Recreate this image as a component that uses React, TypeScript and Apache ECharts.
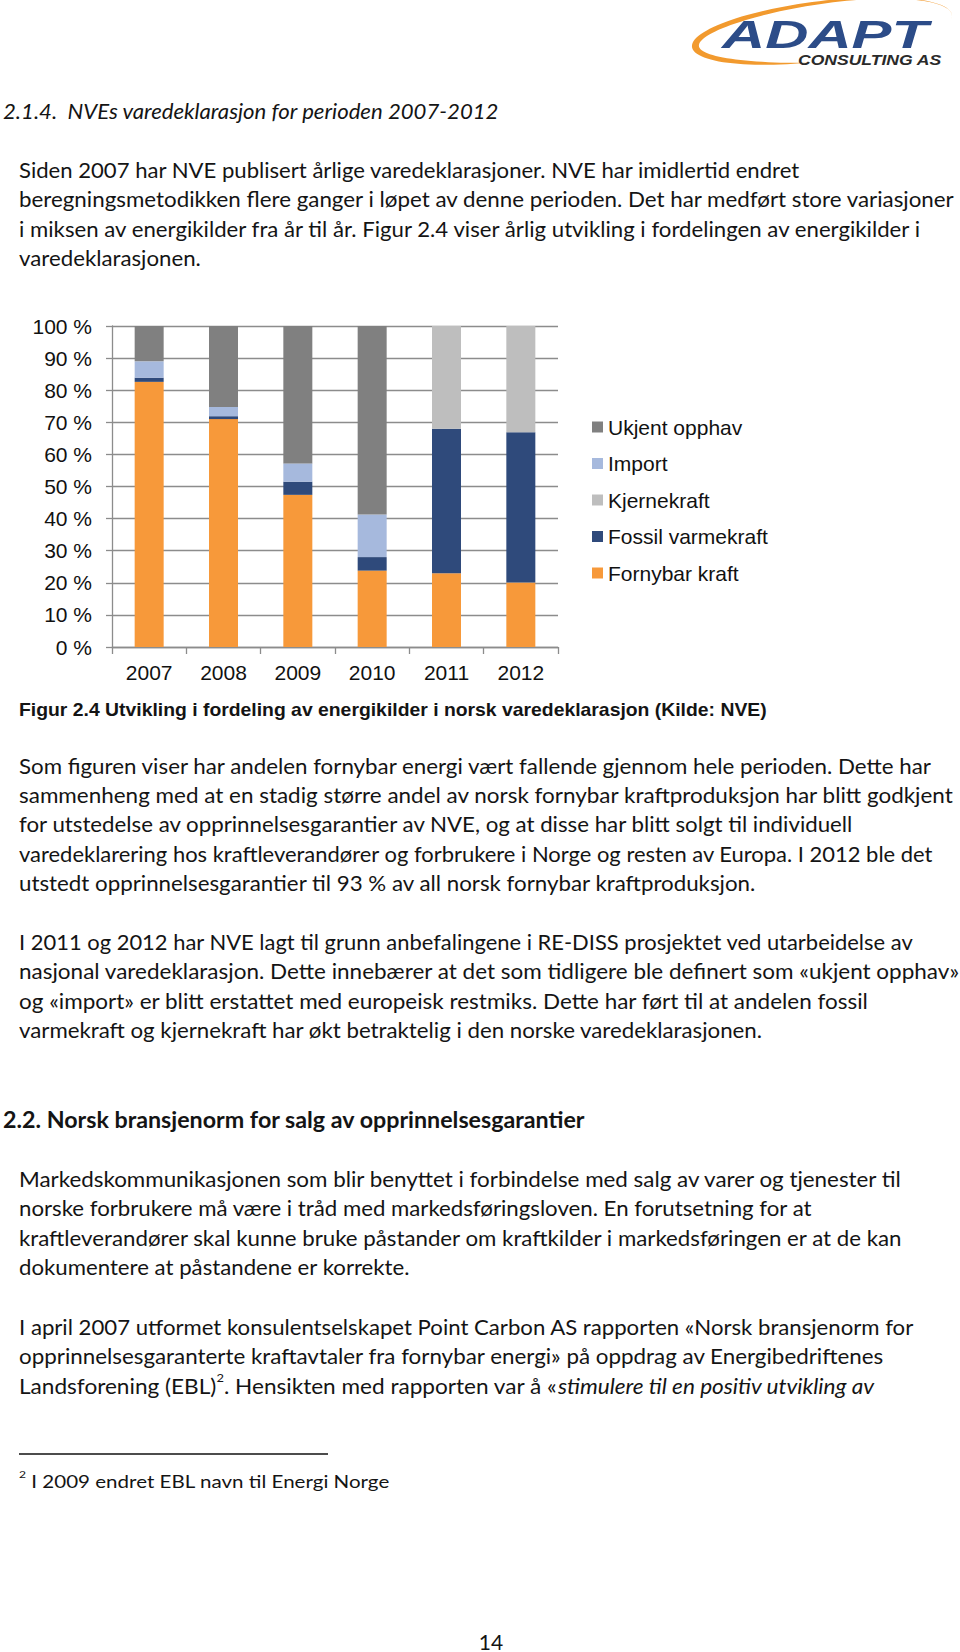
import React, { useEffect, useRef } from 'react';
import * as echarts from 'echarts';

// ---------- chart data ----------
const years = ['2007', '2008', '2009', '2010', '2011', '2012'];
const fornybar = [82.6, 71.0, 47.4, 23.8, 23.0, 20.1];
const fossil = [1.3, 0.9, 4.1, 4.2, 45.0, 46.8];
const kjernekraft = [0, 0, 0, 0, 32.0, 33.1];
const importShare = [5.1, 2.9, 5.7, 13.3, 0, 0];
const ukjent = [11.0, 25.2, 42.8, 58.7, 0, 0];
const seriesNames = ['Fornybar kraft', 'Fossil varmekraft', 'Kjernekraft', 'Import', 'Ukjent opphav'];
const legendOrder = ['Ukjent opphav', 'Import', 'Kjernekraft', 'Fossil varmekraft', 'Fornybar kraft'];
const seriesColors = ['#F7993A', '#2F4A7B', '#BEBEBE', '#A6B9DD', '#808080'];

// ---------- page text ----------
const heading1 = '2.1.4.  NVEs varedeklarasjon for perioden 2007-2012';
const para1 = [
  'Siden 2007 har NVE publisert årlige varedeklarasjoner. NVE har imidlertid endret',
  'beregningsmetodikken flere ganger i løpet av denne perioden. Det har medført store variasjoner',
  'i miksen av energikilder fra år til år. Figur 2.4 viser årlig utvikling i fordelingen av energikilder i',
  'varedeklarasjonen.',
];
const caption = 'Figur 2.4 Utvikling i fordeling av energikilder i norsk varedeklarasjon (Kilde: NVE)';
const para2 = [
  'Som figuren viser har andelen fornybar energi vært fallende gjennom hele perioden. Dette har',
  'sammenheng med at en stadig større andel av norsk fornybar kraftproduksjon har blitt godkjent',
  'for utstedelse av opprinnelsesgarantier av NVE, og at disse har blitt solgt til individuell',
  'varedeklarering hos kraftleverandører og forbrukere i Norge og resten av Europa. I 2012 ble det',
  'utstedt opprinnelsesgarantier til 93 % av all norsk fornybar kraftproduksjon.',
];
const para3 = [
  'I 2011 og 2012 har NVE lagt til grunn anbefalingene i RE-DISS prosjektet ved utarbeidelse av',
  'nasjonal varedeklarasjon. Dette innebærer at det som tidligere ble definert som «ukjent opphav»',
  'og «import» er blitt erstattet med europeisk restmiks. Dette har ført til at andelen fossil',
  'varmekraft og kjernekraft har økt betraktelig i den norske varedeklarasjonen.',
];
const heading2 = '2.2. Norsk bransjenorm for salg av opprinnelsesgarantier';
const para4 = [
  'Markedskommunikasjonen som blir benyttet i forbindelse med salg av varer og tjenester til',
  'norske forbrukere må være i tråd med markedsføringsloven. En forutsetning for at',
  'kraftleverandører skal kunne bruke påstander om kraftkilder i markedsføringen er at de kan',
  'dokumentere at påstandene er korrekte.',
];
const para5 = [
  'I april 2007 utformet konsulentselskapet Point Carbon AS rapporten «Norsk bransjenorm for',
  'opprinnelsesgaranterte kraftavtaler fra fornybar energi» på oppdrag av Energibedriftenes',
];
const para5Last = ['Landsforening (EBL)', '2', '. Hensikten med rapporten var å «', 'stimulere til en positiv utvikling av'];
const footnote = ['2', ' I 2009 endret EBL navn til Energi Norge'];
const pageNumber = '14';

// ---------- layout (widths of each printed line, px) ----------
const w1 = [782, 937, 905, 182];
const w2 = [915, 936, 837, 915, 738];
const w3 = [895, 941, 850, 745];
const w4 = [885, 794, 885, 391];
const w5 = [896, 866, 856];

type Seg = { text: string; size: number; family: string; style?: string; weight?: string; dy?: number };

let ctx: CanvasRenderingContext2D | null = null;
function measure(s: Seg): number {
  if (!ctx) ctx = document.createElement('canvas').getContext('2d');
  ctx!.font = `${s.style || 'normal'} ${s.weight || 'normal'} ${s.size}px "${s.family}"`;
  return ctx!.measureText(s.text).width;
}

function lineGroup(segs: Seg[], x: number, y: number, target?: number, fill = '#141414') {
  let cur = 0;
  const children: any[] = [];
  for (const s of segs) {
    children.push({
      type: 'text',
      x: cur,
      y: s.dy || 0,
      style: {
        text: s.text,
        fontSize: s.size,
        fontFamily: s.family,
        fontStyle: s.style || 'normal',
        fontWeight: s.weight || 'normal',
        fill,
        align: 'left',
        textAlign: 'left',
        verticalAlign: 'middle',
        textVerticalAlign: 'middle',
      },
    });
    cur += measure(s);
  }
  const sx = target ? target / cur : 1;
  return { type: 'group', x, y, scaleX: sx, children };
}

const BODY = 'Lato';
const BODY_SIZE = 21;

function paragraph(lines: string[], widths: number[], x: number, y0: number, gap: number) {
  return lines.map((t, i) => lineGroup([{ text: t, size: BODY_SIZE, family: BODY }], x, y0 + i * gap, widths[i]));
}

function swoosh(): number[][] {
  const cx = 822, cy = 31, rx = 131, ry = 30, a = (-7 * Math.PI) / 180;
  const ts = -15, te = 262, N = 90;
  const outer: number[][] = [];
  const inner: number[][] = [];
  const pt = (th: number, rX: number, rY: number) => {
    const ux = rX * Math.cos(th);
    const uy = -rY * Math.sin(th);
    return [cx + ux * Math.cos(a) - uy * Math.sin(a), cy + ux * Math.sin(a) + uy * Math.cos(a)];
  };
  for (let i = 0; i <= N; i++) {
    const f = i / N;
    const th = ((ts + (te - ts) * f) * Math.PI) / 180;
    const w = 7 * Math.sin(Math.PI * f * f);
    outer.push(pt(th, rx, ry));
    inner.push(pt(th, rx - w, ry - w));
  }
  return outer.concat(inner.reverse());
}

function buildOption(): any {
  const graphics: any[] = [];
  // logo
  graphics.push({ type: 'polygon', shape: { points: swoosh() }, style: { fill: '#F29A2E' } });
  graphics.push(
    lineGroup([{ text: 'ADAPT', size: 39, family: 'Liberation Sans', weight: 'bold', style: 'italic' }], 722, 34, 206, '#2C4C88')
  );
  graphics.push(
    lineGroup([{ text: 'CONSULTING AS', size: 14, family: 'Liberation Sans', weight: 'bold', style: 'italic' }], 798, 60, 144, '#2a2a2a')
  );
  // headings & paragraphs
  graphics.push(lineGroup([{ text: heading1, size: 21, family: BODY, style: 'italic' }], 3, 111, 497));
  graphics.push(...paragraph(para1, w1, 19, 170, 29.5));
  graphics.push(lineGroup([{ text: caption, size: 18, family: 'Liberation Sans', weight: 'bold' }], 19, 710, 748));
  graphics.push(...paragraph(para2, w2, 19, 766, 29.3));
  graphics.push(...paragraph(para3, w3, 19, 942, 29.5));
  graphics.push(lineGroup([{ text: heading2, size: 22, family: BODY, weight: 'bold' }], 3, 1120, 583));
  graphics.push(...paragraph(para4, w4, 19, 1179, 29.5));
  graphics.push(...paragraph(para5, w5, 19, 1327, 29.5));
  graphics.push(
    lineGroup(
      [
        { text: para5Last[0], size: BODY_SIZE, family: BODY },
        { text: para5Last[1], size: 12, family: BODY, dy: -8 },
        { text: para5Last[2], size: BODY_SIZE, family: BODY },
        { text: para5Last[3], size: BODY_SIZE, family: BODY, style: 'italic' },
      ],
      19,
      1327 + 2 * 29.5,
      w5[2]
    )
  );
  // footnote
  graphics.push({ type: 'line', shape: { x1: 19, y1: 1454, x2: 328, y2: 1454 }, style: { stroke: '#111', lineWidth: 1.5 } });
  graphics.push(
    lineGroup(
      [
        { text: footnote[0], size: 10, family: BODY, dy: -7 },
        { text: footnote[1], size: 17, family: BODY },
      ],
      19,
      1481,
      371
    )
  );
  graphics.push({
    type: 'text',
    x: 491,
    y: 1641,
    style: { text: pageNumber, fontSize: 21, fontFamily: BODY, fill: '#141414', align: 'center', textAlign: 'center', verticalAlign: 'middle', textVerticalAlign: 'middle' },
  });

  const dataSets = [fornybar, fossil, kjernekraft, importShare, ukjent];
  const axisColor = '#8C8C8C';
  return {
    animation: false,
    backgroundColor: '#ffffff',
    textStyle: { fontFamily: 'Liberation Sans' },
    grid: { left: 112, top: 326, width: 446, height: 321, containLabel: false },
    legend: {
      orient: 'vertical',
      left: 592,
      top: 415,
      padding: 0,
      itemWidth: 11,
      itemHeight: 11,
      itemGap: 12.5,
      icon: 'rect',
      selectedMode: false,
      data: legendOrder,
      textStyle: { fontSize: 21, lineHeight: 24, color: '#111', fontFamily: 'Liberation Sans' },
    },
    xAxis: {
      type: 'category',
      data: years,
      axisLine: { show: true, lineStyle: { color: axisColor, width: 1.3 } },
      axisTick: { show: true, length: 7, alignWithLabel: false, lineStyle: { color: axisColor, width: 1.3 } },
      axisLabel: { fontSize: 21, color: '#111', margin: 15, fontFamily: 'Liberation Sans' },
      splitLine: { show: false },
    },
    yAxis: {
      type: 'value',
      min: 0,
      max: 100,
      interval: 10,
      axisLine: { show: true, lineStyle: { color: axisColor, width: 1.3 } },
      axisTick: { show: true, length: 6, lineStyle: { color: axisColor, width: 1.3 } },
      axisLabel: { formatter: '{value} %', fontSize: 21, color: '#111', margin: 20, fontFamily: 'Liberation Sans' },
      splitLine: { show: true, lineStyle: { color: axisColor, width: 1.3 } },
    },
    series: seriesNames.map((name, i) => ({
      name,
      type: 'bar',
      stack: 'total',
      barWidth: 29,
      data: dataSets[i],
      itemStyle: { color: seriesColors[i] },
      emphasis: { disabled: true },
    })),
    graphic: { elements: graphics },
  };
}

export default function App() {
  const ref = useRef<HTMLDivElement>(null);
  useEffect(() => {
    const chart = echarts.init(ref.current!, undefined, { renderer: 'svg' });
    chart.setOption(buildOption());
    return () => chart.dispose();
  }, []);
  return (
    <div
      ref={ref}
      style={{ position: 'absolute', left: 0, top: 0, width: 960, height: 1652, background: '#ffffff' }}
    />
  );
}
